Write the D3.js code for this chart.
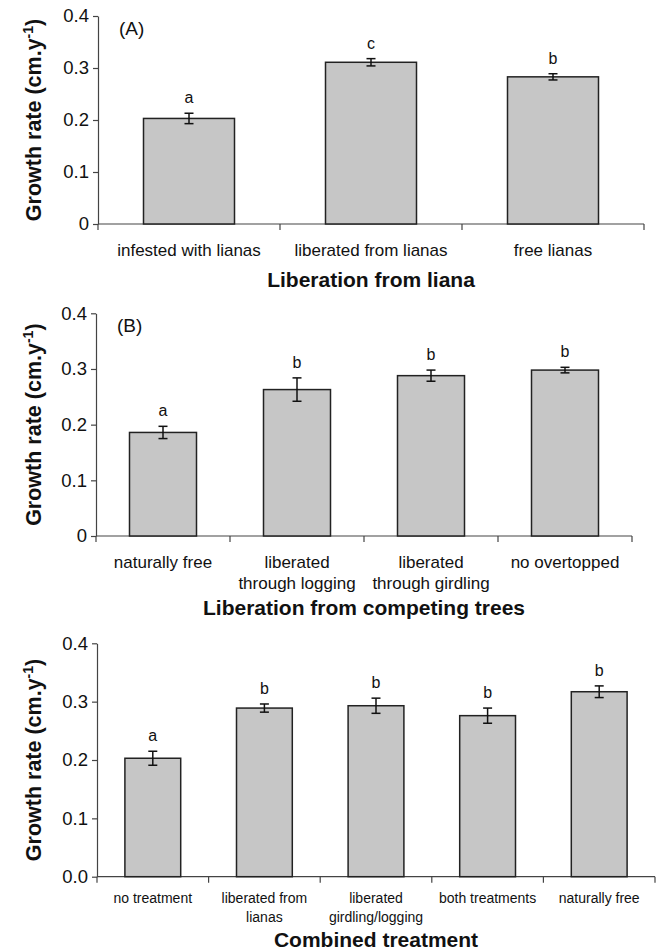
<!DOCTYPE html>
<html>
<head>
<meta charset="utf-8">
<script src="https://cdn.jsdelivr.net/npm/d3@7"></script>
<style>
  html, body { margin: 0; padding: 0; background: #fff; }
  svg { display: block; }
  text { font-family: Arial, "Liberation Sans", Helvetica, sans-serif; fill: #111; }
</style>
</head>
<body>
<svg id="chart" width="664" height="951"></svg>
<script>
// ---- data ----
const yTicks = [0, 0.1, 0.2, 0.3, 0.4];
const yTickLabelsAB = ["0", "0.1", "0.2", "0.3", "0.4"];
const yTickLabelsC = ["0.0", "0.1", "0.2", "0.3", "0.4"];

const lianaCategories = [["infested with lianas"], ["liberated from lianas"], ["free lianas"]];
const lianaValues = [0.203, 0.311, 0.283];
const lianaErrors = [0.010, 0.007, 0.006];
const lianaLetters = ["a", "c", "b"];

const treeCategories = [["naturally free"], ["liberated", "through logging"], ["liberated", "through girdling"], ["no overtopped"]];
const treeValues = [0.186, 0.263, 0.288, 0.298];
const treeErrors = [0.011, 0.021, 0.010, 0.005];
const treeLetters = ["a", "b", "b", "b"];

const combCategories = [["no treatment"], ["liberated from", "lianas"], ["liberated", "girdling/logging"], ["both treatments"], ["naturally free"]];
const combValues = [0.203, 0.289, 0.293, 0.276, 0.317];
const combErrors = [0.012, 0.007, 0.013, 0.013, 0.010];
const combLetters = ["a", "b", "b", "b", "b"];

const svg = d3.select("#chart");

function drawPanel(cfg) {
  const g = svg.append("g");
  const x = d3.scaleBand()
    .domain(cfg.categories.map((d, i) => i))
    .range([cfg.x0, cfg.x1])
    .paddingInner(0.5)
    .paddingOuter(0.25);
  const y = d3.scaleLinear().domain([0, 0.4]).range([cfg.yBottom, cfg.yTop]);

  // y axis
  const yAxis = d3.axisLeft(y)
    .tickValues(yTicks)
    .tickFormat((d, i) => cfg.tickLabels[i])
    .tickSize(5)
    .tickPadding(4)
    .tickSizeOuter(0);
  const ya = g.append("g").attr("transform", `translate(${cfg.x0},0)`).call(yAxis);
  ya.select(".domain").attr("stroke", "#444").attr("stroke-width", 1.2);
  ya.selectAll(".tick line").attr("stroke", "#444").attr("stroke-width", 1.2);
  ya.selectAll(".tick text")
    .attr("font-size", 18.5)
    .attr("fill", "#111")
    .style("font-family", "Arial, 'Liberation Sans', sans-serif");

  // x axis line with ticks at category boundaries
  const step = x.step();
  g.append("line")
    .attr("x1", cfg.x0).attr("x2", cfg.x1)
    .attr("y1", y(0)).attr("y2", y(0))
    .attr("stroke", "#444").attr("stroke-width", 1.2);
  const bounds = d3.range(cfg.categories.length + 1).map(i => cfg.x0 + i * step);
  g.selectAll(".xtick").data(bounds).join("line")
    .attr("x1", d => d).attr("x2", d => d)
    .attr("y1", y(0)).attr("y2", y(0) + 6)
    .attr("stroke", "#444").attr("stroke-width", 1.2);

  // bars
  g.selectAll(".bar").data(cfg.values).join("rect")
    .attr("x", (d, i) => x(i))
    .attr("width", x.bandwidth())
    .attr("y", d => y(d))
    .attr("height", d => y(0) - y(d))
    .attr("fill", "#c6c6c6")
    .attr("stroke", "#222")
    .attr("stroke-width", 1.5);

  // error bars
  const cap = 4.5;
  cfg.values.forEach((v, i) => {
    const cx = x(i) + x.bandwidth() / 2;
    const e = cfg.errors[i];
    const eb = g.append("g").attr("stroke", "#111").attr("stroke-width", 1.5);
    eb.append("line").attr("x1", cx).attr("x2", cx).attr("y1", y(v + e)).attr("y2", y(v - e));
    eb.append("line").attr("x1", cx - cap).attr("x2", cx + cap).attr("y1", y(v + e)).attr("y2", y(v + e));
    eb.append("line").attr("x1", cx - cap).attr("x2", cx + cap).attr("y1", y(v - e)).attr("y2", y(v - e));
    // significance letter
    g.append("text")
      .attr("x", cx)
      .attr("y", y(v + e) - 10)
      .attr("text-anchor", "middle")
      .attr("font-size", 16)
      .text(cfg.letters[i]);
  });

  // category labels
  cfg.categories.forEach((lines, i) => {
    const cx = x(i) + x.bandwidth() / 2;
    lines.forEach((ln, k) => {
      g.append("text")
        .attr("x", cx)
        .attr("y", y(0) + cfg.catOffset + k * cfg.catLine)
        .attr("text-anchor", "middle")
        .attr("font-size", cfg.catSize)
        .text(ln);
    });
  });

  // x title
  g.append("text")
    .attr("x", (cfg.x0 + cfg.x1) / 2)
    .attr("y", y(0) + cfg.titleOffset)
    .attr("text-anchor", "middle")
    .attr("font-size", 21)
    .attr("font-weight", "bold")
    .text(cfg.title);

  // y title
  const yt = g.append("text")
    .attr("transform", `translate(41,${(cfg.yTop + cfg.yBottom) / 2}) rotate(-90)`)
    .attr("text-anchor", "middle")
    .attr("font-size", 21.5)
    .attr("font-weight", "bold");
  yt.append("tspan").text("Growth rate (cm.y");
  yt.append("tspan").attr("font-size", 14).attr("dy", -8).text("-1");
  yt.append("tspan").attr("dy", 8).text(")");

  // panel tag
  if (cfg.tag) {
    g.append("text")
      .attr("x", cfg.x0 + 21)
      .attr("y", cfg.yTop + 19)
      .attr("font-size", 19)
      .text(cfg.tag);
  }
}

drawPanel({
  categories: lianaCategories, values: lianaValues, errors: lianaErrors, letters: lianaLetters,
  tickLabels: yTickLabelsAB, x0: 98, x1: 644, yTop: 16, yBottom: 224,
  catSize: 17, catOffset: 32, catLine: 21, titleOffset: 63,
  title: "Liberation from liana", tag: "(A)"
});

drawPanel({
  categories: treeCategories, values: treeValues, errors: treeErrors, letters: treeLetters,
  tickLabels: yTickLabelsAB, x0: 96, x1: 632, yTop: 313.3, yBottom: 536,
  catSize: 17, catOffset: 32, catLine: 21, titleOffset: 79,
  title: "Liberation from competing trees", tag: "(B)"
});

drawPanel({
  categories: combCategories, values: combValues, errors: combErrors, letters: combLetters,
  tickLabels: yTickLabelsC, x0: 97, x1: 655, yTop: 643.3, yBottom: 876.7,
  catSize: 14, catOffset: 26, catLine: 19, titleOffset: 70,
  title: "Combined treatment", tag: null
});
</script>
</body>
</html>
